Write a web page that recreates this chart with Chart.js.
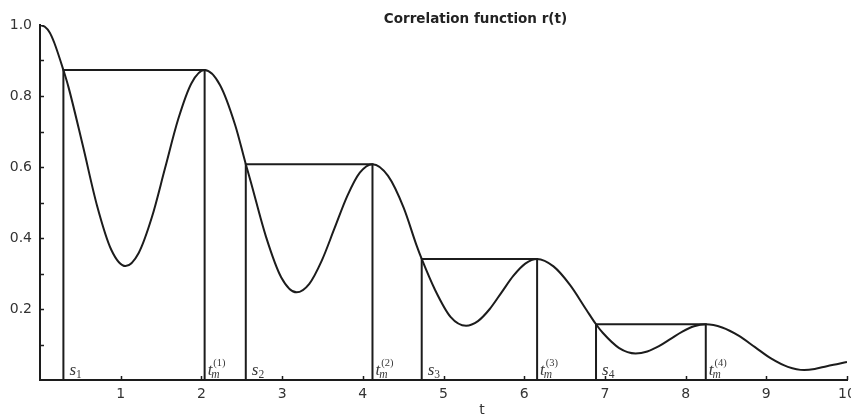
<!DOCTYPE html>
<html>
<head>
<meta charset="utf-8">
<title>Correlation function r(t)</title>
<script src="https://cdn.jsdelivr.net/npm/chart.js@4.4.0/dist/chart.umd.min.js"></script>
<style>
    html, body { margin: 0; padding: 0; background: #fff; }
    #wrap { position: relative; width: 851px; height: 415px; }
</style>
</head>
<body>
<div id="wrap"><canvas id="corrChart" width="851" height="415"></canvas></div>
<script>
// Correlation function r(t)

// curva r(t): tempos e valores
const curveT = [
    0, 0.06, 0.12, 0.177, 0.29, 0.353, 0.53, 0.707, 0.883,
    1.06, 1.223, 1.387, 1.55, 1.713, 1.877,
    2.04, 2.23, 2.42, 2.55, 2.61, 2.80, 2.99,
    3.18, 3.337, 3.493, 3.65, 3.807, 3.963,
    4.12, 4.313, 4.507, 4.665, 4.73, 4.893, 5.087,
    5.28, 5.427, 5.573, 5.72, 5.867, 6.013,
    6.16, 6.363, 6.567, 6.77, 6.89, 6.973, 7.177,
    7.38, 7.525, 7.67, 7.815, 7.96, 8.105,
    8.25, 8.453, 8.657, 8.86, 9.063, 9.267,
    9.47, 9.6, 9.75, 9.9, 10
];
const curveR = [
    1.0, 0.995, 0.979, 0.95, 0.873, 0.825, 0.661, 0.491, 0.367,
    0.321, 0.358, 0.459, 0.597, 0.735, 0.836,
    0.873, 0.831, 0.717, 0.608, 0.560, 0.404, 0.289,
    0.247, 0.271, 0.337, 0.4275, 0.518, 0.584,
    0.608, 0.575, 0.485, 0.380, 0.341, 0.255, 0.178,
    0.153, 0.166, 0.200, 0.247, 0.294, 0.328,
    0.341, 0.320, 0.268, 0.198, 0.157, 0.133, 0.090,
    0.075, 0.0805, 0.0955, 0.116, 0.1365, 0.1515,
    0.157, 0.148, 0.125, 0.0925, 0.060, 0.037,
    0.028, 0.031, 0.039, 0.046, 0.051
];

// pontos s_i, máximos t_m^(i) e nível de cada degrau
const sValues = [0.29, 2.55, 4.73, 6.89];
const tmValues = [2.04, 4.12, 6.16, 8.25];
const levels = [0.873, 0.608, 0.341, 0.157];

// rótulos dos eixos
const xTickLabels = ['1', '2', '3', '4', '5', '6', '7', '8', '9', '10'];
const yTickLabels = ['0.2', '0.4', '0.6', '0.8', '1.0'];

const INK = '#1c1c1c';
const TEXT = '#333333';

function curveData() {
    return curveT.map((t, i) => ({ x: t, y: curveR[i] }));
}

function stepData(i) {
    return [
        { x: sValues[i], y: 0 },
        { x: sValues[i], y: levels[i] },
        { x: tmValues[i], y: levels[i] },
        { x: tmValues[i], y: 0 }
    ];
}

// desenha texto tipo LaTeX: letra principal, índice e expoente
function drawMath(ctx, x, base, main, sub, sup, subItalic) {
    ctx.font = 'italic 17px "Liberation Serif"';
    ctx.fillText(main, x, base);
    const w = ctx.measureText(main).width;
    if (sub) {
        ctx.font = (subItalic ? 'italic ' : '') + '11.5px "Liberation Serif"';
        ctx.fillText(sub, x + w - (subItalic ? 1 : 0), base + 3);
    }
    if (sup) {
        ctx.font = '10.5px "Liberation Serif"';
        ctx.fillText(sup, x + w + 1, base - 9);
    }
}

const decorations = {
    id: 'decorations',
    afterDatasetsDraw(chart) {
        const { ctx, scales: { x, y } } = chart;
        ctx.save();

        // marcas dos eixos, para dentro
        ctx.strokeStyle = INK;
        ctx.lineWidth = 1.5;
        ctx.beginPath();
        y.ticks.forEach(tk => {
            if (tk.value <= 0 || tk.value >= 1) return;
            const py = Math.round(y.getPixelForValue(tk.value)) + 0.5;
            ctx.moveTo(x.left, py);
            ctx.lineTo(x.left + 4, py);
        });
        x.ticks.forEach(tk => {
            if (tk.value <= 0) return;
            const px = Math.round(x.getPixelForValue(tk.value)) + 0.5;
            ctx.moveTo(px, y.bottom);
            ctx.lineTo(px, y.bottom - 4);
        });
        ctx.stroke();

        // rótulos s_i e t_m^(i)
        ctx.fillStyle = '#3a3a3a';
        ctx.textAlign = 'left';
        ctx.textBaseline = 'alphabetic';
        const base = y.bottom - 5;
        sValues.forEach((s, i) => {
            drawMath(ctx, x.getPixelForValue(s) + 6, base, 's', String(i + 1), null, false);
        });
        tmValues.forEach((tm, i) => {
            drawMath(ctx, x.getPixelForValue(tm) + 3, base, 't', 'm', '(' + (i + 1) + ')', true);
        });

        // título e nome do eixo x
        ctx.fillStyle = '#222';
        ctx.textAlign = 'center';
        ctx.font = 'bold 13.5px "DejaVu Sans"';
        ctx.fillText('Correlation function r(t)', 475.5, 22.5);
        ctx.fillStyle = TEXT;
        ctx.font = '14px "DejaVu Sans"';
        ctx.fillText('t', 482, 414);

        ctx.restore();
    }
};

function createChart() {
    const canvas = document.getElementById('corrChart');
    const ctx = canvas.getContext('2d');

    const datasets = [{
        label: 'r(t)',
        data: curveData(),
        borderColor: INK,
        borderWidth: 2,
        pointRadius: 0,
        cubicInterpolationMode: 'monotone',
        fill: false
    }];
    sValues.forEach((s, i) => {
        datasets.push({
            label: 'step ' + (i + 1),
            data: stepData(i),
            borderColor: INK,
            borderWidth: 2,
            pointRadius: 0,
            tension: 0,
            fill: false
        });
    });

    return new Chart(ctx, {
        type: 'line',
        data: { datasets: datasets },
        options: {
            responsive: false,
            animation: false,
            layout: { padding: { top: 25, right: 4, left: 0, bottom: 0 } },
            plugins: {
                legend: { display: false },
                title: { display: false },
                tooltip: { enabled: false }
            },
            scales: {
                x: {
                    type: 'linear',
                    min: 0,
                    max: 10,
                    grid: { display: false, drawTicks: false },
                    border: { display: true, color: INK, width: 2 },
                    ticks: {
                        stepSize: 1,
                        autoSkip: false,
                        maxRotation: 0,
                        padding: 6,
                        color: TEXT,
                        font: { family: 'DejaVu Sans', size: 14 },
                        callback: value => xTickLabels.find(l => Number(l) === value) || ''
                    },
                    afterFit: scale => {
                        scale.height = 35;
                        scale.paddingLeft = 0;
                        scale.paddingRight = 0;
                    }
                },
                y: {
                    min: 0,
                    max: 1,
                    grid: { display: false, drawTicks: false },
                    border: { display: true, color: INK, width: 2 },
                    ticks: {
                        stepSize: 0.1,
                        autoSkip: false,
                        padding: 8,
                        color: TEXT,
                        font: { family: 'DejaVu Sans', size: 14 },
                        callback: value => yTickLabels.find(l => Math.abs(Number(l) - value) < 1e-6) || ''
                    },
                    afterFit: scale => {
                        scale.width = 40;
                        scale.paddingTop = 0;
                        scale.paddingBottom = 0;
                    }
                }
            }
        },
        plugins: [decorations]
    });
}

document.addEventListener('DOMContentLoaded', createChart);
</script>
</body>
</html>
